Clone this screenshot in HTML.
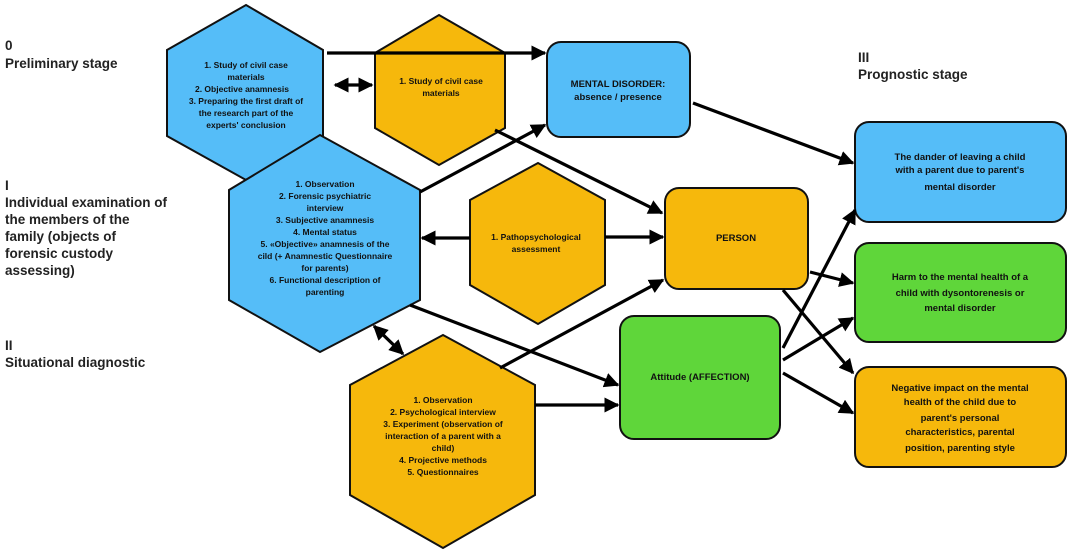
<!DOCTYPE html>
<html><head><meta charset="utf-8"><style>
body{margin:0;background:#fff;}
svg{display:block;font-family:"Liberation Sans",sans-serif;}
.t{font-size:8.5px;font-weight:bold;fill:#111;text-anchor:middle;}
.l{font-size:13.5px;font-weight:bold;fill:#222;}
</style></head><body>
<svg width="1073" height="555" viewBox="0 0 1073 555" xmlns="http://www.w3.org/2000/svg">
<defs>
<marker id="A" viewBox="0 0 10 10" markerWidth="15" markerHeight="15" refX="9" refY="5" orient="auto-start-reverse" markerUnits="userSpaceOnUse"><path d="M0,0 L10,5 L0,10 Z" fill="#000"/></marker></defs>
<g stroke="#111" stroke-width="2">
<polygon points="246,5 323,50 323,136 246,180 167,136 167,50" fill="#55bdf8"/>
<polygon points="439,15 505,53 505,128 439,165 375,128 375,53" fill="#f6b80c"/>
<polygon points="320,135 420,190 420,300 320,352 229,300 229,190" fill="#55bdf8"/>
<polygon points="538,163 605,200 605,285 538,324 470,285 470,200" fill="#f6b80c"/>
<polygon points="443,335 535,385 535,495 443,548 350,495 350,385" fill="#f6b80c"/>
<rect x="547" y="42" width="143" height="95" rx="14" fill="#55bdf8"/>
<rect x="665" y="188" width="143" height="101" rx="14" fill="#f6b80c"/>
<rect x="620" y="316" width="160" height="123" rx="14" fill="#5fd63a"/>
<rect x="855" y="122" width="211" height="100" rx="14" fill="#55bdf8"/>
<rect x="855" y="243" width="211" height="99" rx="14" fill="#5fd63a"/>
<rect x="855" y="367" width="211" height="100" rx="14" fill="#f6b80c"/>
</g>
<g stroke="#000" stroke-width="3.2" fill="none" marker-end="url(#A)">
<line x1="327" y1="53" x2="545" y2="53"/>
<line x1="335" y1="85" x2="372" y2="85" marker-start="url(#A)"/>
<line x1="495" y1="130" x2="662" y2="213"/>
<line x1="420" y1="192" x2="545" y2="125"/>
<line x1="470" y1="238" x2="422" y2="238"/>
<line x1="605" y1="237" x2="663" y2="237"/>
<line x1="410" y1="305" x2="618" y2="385"/>
<line x1="374" y1="326" x2="403" y2="354" marker-start="url(#A)"/>
<line x1="500" y1="368" x2="663" y2="280"/>
<line x1="535" y1="405" x2="618" y2="405"/>
<line x1="693" y1="103" x2="853" y2="163"/>
<line x1="810" y1="272" x2="853" y2="283"/>
<line x1="783" y1="290" x2="853" y2="373"/>
<line x1="783" y1="348" x2="855" y2="210"/>
<line x1="783" y1="360" x2="853" y2="318"/>
<line x1="783" y1="373" x2="853" y2="413"/>
</g>
<text class="l" x="5" y="50">0</text>
<text class="l" x="5" y="68">Preliminary stage</text>
<text class="l" x="5" y="190">I</text>
<text class="l" x="5" y="207">Individual examination of</text>
<text class="l" x="5" y="224">the members of the</text>
<text class="l" x="5" y="241">family (objects of</text>
<text class="l" x="5" y="258">forensic custody</text>
<text class="l" x="5" y="275">assessing)</text>
<text class="l" x="5" y="350">II</text>
<text class="l" x="5" y="367">Situational diagnostic</text>
<text class="l" x="858" y="62">III</text>
<text class="l" x="858" y="79">Prognostic stage</text>
<text class="t"><tspan x="246" y="68">1.      Study of civil case</tspan><tspan x="246" y="80">materials</tspan><tspan x="242" y="92">2.    Objective anamnesis</tspan><tspan x="246" y="104">3. Preparing the first draft of</tspan><tspan x="246" y="116">the research part of the</tspan><tspan x="246" y="128">experts' conclusion</tspan></text>
<text class="t"><tspan x="441" y="84">1.  Study of civil case</tspan><tspan x="441" y="96">materials</tspan></text>
<text class="t"><tspan x="325" y="187">1.        Observation</tspan><tspan x="325" y="199">2.      Forensic psychiatric</tspan><tspan x="325" y="211">interview</tspan><tspan x="325" y="223">3.         Subjective anamnesis</tspan><tspan x="325" y="235">4.               Mental status</tspan><tspan x="325" y="247">5.  «Objective» anamnesis of the</tspan><tspan x="325" y="259">cild (+ Anamnestic Questionnaire</tspan><tspan x="325" y="271">for parents)</tspan><tspan x="325" y="283">6.     Functional description of</tspan><tspan x="325" y="295">parenting</tspan></text>
<text class="t"><tspan x="536" y="240">1.  Pathopsychological</tspan><tspan x="536" y="252">assessment</tspan></text>
<text class="t"><tspan x="443" y="403">1.              Observation</tspan><tspan x="443" y="415">2.      Psychological interview</tspan><tspan x="443" y="427">3.   Experiment (observation of</tspan><tspan x="443" y="439">interaction of a parent with a</tspan><tspan x="443" y="451">child)</tspan><tspan x="443" y="463">4.          Projective methods</tspan><tspan x="443" y="475">5.            Questionnaires</tspan></text>
<text class="t" style="font-size:9.5px"><tspan x="618" y="87">MENTAL DISORDER:</tspan><tspan x="618" y="100">absence / presence</tspan></text>
<text class="t" style="font-size:9.5px" x="736" y="241">PERSON</text>
<text class="t" style="font-size:9.5px" x="700" y="380">Attitude (AFFECTION)</text>
<text class="t" style="font-size:9.5px"><tspan x="960" y="160">The dander of leaving a child</tspan><tspan x="960" y="173">with a parent due to parent's</tspan><tspan x="960" y="190">mental disorder</tspan></text>
<text class="t" style="font-size:9.5px"><tspan x="960" y="280">Harm to the mental health of a</tspan><tspan x="960" y="296">child with dysontorenesis or</tspan><tspan x="960" y="311">mental disorder</tspan></text>
<text class="t" style="font-size:9.5px"><tspan x="960" y="391">Negative impact on the mental</tspan><tspan x="960" y="405">health of the child due to</tspan><tspan x="960" y="421">parent's personal</tspan><tspan x="960" y="435">characteristics, parental</tspan><tspan x="960" y="451">position, parenting style</tspan></text>
</svg>
</body></html>
